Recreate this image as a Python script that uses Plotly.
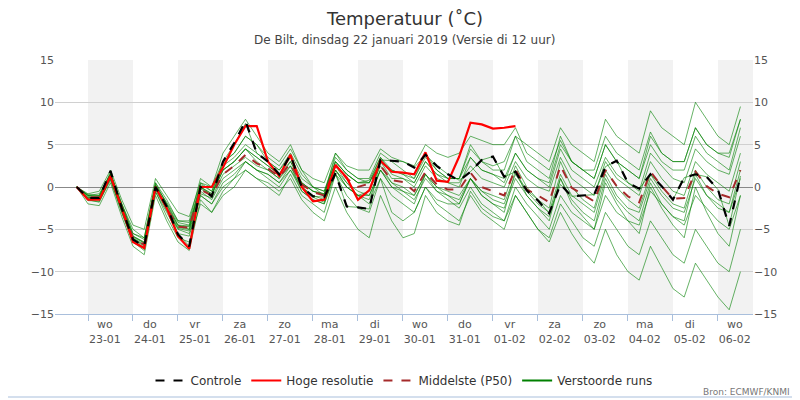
import plotly.graph_objects as go

# hours since 23-01 00h, 6-hourly
hours = list(range(-6, 354, 6))

controle = [0,-1.3,-1.3,1.9,-2.5,-6.2,-7,0,-2.3,-5.6,
            -7,0,-1.1,3,5.2,7.8,4,3,1.5,3.8,
            0,-1.1,-1.2,1.6,-2.3,-2.4,-2.6,3.2,3.1,3,
            2.3,3.8,2.5,1.5,0.75,1.8,3.2,3.6,1.2,1.8,
            -0.4,-1.6,-3.1,0.3,-1.1,-1,-0.9,2.4,3.1,0.5,
            -0.2,1.5,0.1,-1.5,1.1,1.5,1.2,-0.3,-4.6,1.3]
hoge = [0,-1.5,-1.5,1.3,-2.5,-6.5,-7.2,0,-2.5,-5.8,
        -7.3,0,0,2.3,5,7.2,7.2,3,1.3,3.8,
        0,-1.7,-1.5,2.6,1.1,-1.5,-0.4,3.1,1.8,1.7,
        1.5,4.1,0.75,0.6,3.6,7.6,7.4,6.9,7.0,7.2]
middel = [0,-1.2,-1.2,1.3,-2.5,-6,-6.8,0,-2.5,-4.7,
          -4.8,-0.3,-1,1.5,2.5,3.8,2.8,2.2,1.2,2.8,
          0.3,-0.6,-1,2.6,1,0,0.4,2.5,0.8,0.6,
          -0.5,1.8,0.3,-0.3,-0.3,1.7,0,-0.5,-1,2.1,
          -0.3,-1,-1.8,2.5,-0.1,-0.9,-1.7,2,0.1,-1.1,
          -1.8,1.8,0.1,-1.4,-1.3,1.8,0.1,-0.8,-1.2,2]

runs = [
 [0,-1,-1,1.5,-2,-5.5,-6,0.5,-1.5,-4, -4,1,0,4,6,8,6,4,3,5, 2,0,-1,4,2,1,1,4,3,2,
  1,4,2,1,1,5,3,2,2,6, 3,2,1,6,3,2,1,5,3,2, 1,6,4,3,3,7,5,4,4,8],
 [0,-1.5,-1.8,1,-3,-6.5,-7.5,-0.5,-3.5,-6, -6.5,-2,-3,-1,0,2,1,0,-1,1.5, -1,-2,-3,1.5,-1,-2.5,-3,1,-1,-2,
  -3,0,-2,-3,-4,-1,-3,-4,-5,-1, -3,-5,-6,-2,-4,-6,-7,-3,-5,-7, -8,-4,-6,-8,-9,-5,-7,-9,-10,-5],
 [0,-1.3,-1.3,1.8,-2.5,-6.2,-7,0,-2.3,-5.5, -7,0,-1,3,5,7.5,4,3,1.5,3.8, 0,-1.1,-1.2,1.6,-2.3,-2.4,-2.6,3.2,3.1,3,
  2.3,3.8,2.5,1.5,0.8,1.8,3.2,3.6,1.2,1.8, -0.4,-1.5,-3.1,0.3,-1.1,-1,-0.9,2.4,3.1,0.5, -0.2,1.5,0.1,-1.5,1.1,1.5,1.2,-0.3,-4.6,1.3],
 [0,-0.8,-0.5,2,-1.5,-4.5,-5,1,-1,-3, -3.5,0.5,0,3,4,6,5,3,2,4, 1.5,0,-0.5,3.5,2,1,0.5,3.5,2,1.5,
  0.5,3,1.5,0.5,0,3.5,2,1.5,0.5,4, 2,1,0,4.5,2,1,0,3.5,1.5,0.5, -0.5,4,2.5,1,0.5,4.5,3,2,1.5,6],
 [0,-2,-2.2,0.5,-3.5,-7,-8,-1,-4,-6.5, -7.5,-1.5,-3,-0.5,1,3,2,1,0,2, -0.5,-1.5,-2,2,0,-1,-1.5,2,0,-1,
  -2,1.5,0,-1,-2,1,-1,-2,-3,2, -1,-2.5,-4,1,-2,-3.5,-5,0.5,-2,-4, -5.5,0,-2.5,-4.5,-6,0,-3,-5.5,-7,-1],
 [0,-1,-0.8,1.5,-2,-5,-6,0.5,-2,-4.5, -5,0.5,-0.5,2.5,3.5,5,4,3,2,3.5, 1,0,-0.5,3,1.5,0.5,0.5,3,2,1.5,
  1,3.5,2,1,1,4.5,3,2.5,3,6, 5,4,3,7,5,4,3,8,6,5, 4,9,7,6,5,10,8,6,5,9.5],
 [0,-1.5,-1.5,1,-2.8,-6.3,-7.2,-0.3,-2.8,-5, -5.5,-1,-2,0,1,2,1,0.5,-0.5,1, -1.5,-3,-4,0,-3,-5,-6,-1,-4,-6,
  -5.5,-1,-3,-4,-4.5,-0.5,-2.5,-3.5,-4,0, -2,-3.5,-5,-1,-3,-4,-5,-1,-3,-4, -4.5,-0.5,-2,-3.5,-4.5,-1,-2.5,-4,-5,-1],
 [0,-1.2,-1.5,1.2,-2.5,-6,-6.8,0,-2.5,-4.8, -5,-0.5,-1.5,1,2,3,2,1.5,0.5,2, 0,-1,-1.5,2,0.5,-0.5,-1,2,0.5,-0.5,
  -1.5,1,-0.5,-1.5,-2.5,0,-2,-3,-4,-1, -3,-5,-6.5,-3,-5.5,-7.5,-9,-5,-8,-10, -11,-7,-9.5,-12,-13,-9,-11,-13,-14.5,-10],
 [0,-1,-1.2,1.4,-2.2,-5.8,-6.5,0.3,-2,-4.2, -4.5,0,-0.8,2,3,4.5,3.5,2.5,1.5,3, 0.5,-0.5,-0.8,3,1.5,0.5,0.8,3.5,1.5,1,
  0,2.5,1,0.5,0.5,2.5,1,0.5,0,3, 1,0,-0.5,3.5,1,0,-1,3,1,0, -1,3,1,-0.5,-1,3,1.5,0.5,-0.5,4],
 [0,-1.6,-1.7,0.8,-3,-6.5,-7.3,-0.6,-3,-5.5, -5.8,-1,-2,0.5,1.5,3,2,1.5,0.5,2.5, -0.5,-1.5,-2,1.5,0,-1,-1,2,0,-0.5,
  -1,1.5,-0.5,-1,-1.5,1,-0.5,-1.5,-2,1.5, -0.5,-2,-3,1.5,-1,-2,-3,1.5,-1,-2.5, -3,1,-1,-2.5,-3,1,-1,-2,-3,2],
 [0,-0.9,-1,1.6,-2,-5.5,-6.2,0.2,-1.8,-4, -4.2,0.3,-0.5,2.8,4,6,5,3.5,2.5,4.5, 2,1,0.5,4,2.5,2,2,4.5,3.5,3,
  2.5,5,4,3.5,4,6,5.5,5,5,7, 4,3,2,5.5,3,2,1,5,3,2, 1,5,3,2,2,6,4,3,2,7],
 [0,-1.4,-1.4,1.1,-2.7,-6.1,-6.9,-0.2,-2.6,-4.9, -5.2,-0.8,-1.3,1.5,2.5,3.5,2.5,2,1,2.5, 0,-1.2,-1.8,2,0,-1,-0.5,2.5,0.5,0,
  -1,1.5,0,-0.5,-1,1,-0.5,-1,-1.5,2.5, 0,-1.5,-2.5,3,0,-1.5,-2.5,2,0,-1.5, -2.5,1.5,-0.5,-2,-2.5,2,0,-1.5,-2,3],
 [0,-1.1,-1.3,1.3,-2.4,-5.9,-6.6,0.1,-2.4,-4.6, -4.7,-0.2,-1,2,3,4.5,3,2,1,3, 0.5,-0.5,-1,2.5,0.5,-1,-2,1,-3,-4,
  -3,0,-1.5,-2,-2,1,-1,-2,-2.5,1, -1,-2.5,-3.5,1,-1.5,-3,-4,1,-1.5,-3, -4,0.5,-2,-3.5,-4,1.5,-1,-2.5,-3,1],
 [0,-1.3,-1.1,1.5,-2.3,-5.8,-6.6,0,-2.2,-4.5, -4.6,0,-0.8,2,3,4.5,3.5,2.5,1.5,3.5, 0.5,-0.5,-0.8,3,1.5,0.5,0.5,3,1,1,
  0.5,3,1.5,1,1,3.5,2,1.5,1,4, 2,1,0.5,5,3,2,2,6,4,3, 2,6.5,4,3,3,7,5,4,3.5,8],
]

day_names = ["wo","do","vr","za","zo","ma","di","wo","do","vr","za","zo","ma","di","wo"]
day_dates = ["23-01","24-01","25-01","26-01","27-01","28-01","29-01","30-01","31-01",
             "01-02","02-02","03-02","04-02","05-02","06-02"]

fig = go.Figure()
for k, r in enumerate(runs):
    fig.add_trace(go.Scatter(x=hours, y=r, mode="lines", name="Verstoorde runs",
                             line=dict(color="rgba(0,128,0,0.6)", width=1),
                             showlegend=False, hoverinfo="skip"))
fig.add_trace(go.Scatter(x=hours, y=middel, mode="lines", name="Middelste (P50)",
                         line=dict(color="#a52a2a", width=2, dash="dash"), showlegend=False))
fig.add_trace(go.Scatter(x=hours[:len(hoge)], y=hoge, mode="lines", name="Hoge resolutie",
                         line=dict(color="#ff0000", width=2.2), showlegend=False))
fig.add_trace(go.Scatter(x=hours, y=controle, mode="lines", name="Controle",
                         line=dict(color="black", width=2.2, dash="dash"), showlegend=False))
for nm, col, dsh in [("Controle","black","dash"),("Hoge resolutie","#ff0000","solid"),
                     ("Middelste (P50)","#a52a2a","dash"),("Verstoorde runs","green","solid")]:
    fig.add_trace(go.Scatter(x=[None], y=[None], mode="lines", name=nm,
                             line=dict(color=col, width=2, dash=dsh)))
fig.add_trace(go.Scatter(x=[hours[0]], y=[0], yaxis="y2", mode="markers",
                         marker=dict(opacity=0), showlegend=False, hoverinfo="skip"))

def py(p):  # paper y for a pixel row (plot area rows 60..314)
    return (314 - p) / 254

shapes = []
for d in range(0, 15, 2):
    shapes.append(dict(type="rect", xref="x", yref="paper", x0=d*24, x1=d*24+24, y0=0, y1=1,
                       fillcolor="#f2f2f2", line_width=0, layer="below"))
shapes.append(dict(type="line", xref="paper", yref="paper", x0=-0.08, x1=1.08,
                   y0=py(397), y1=py(397), line=dict(color="#a9bfdc", width=1)))

fig.update_layout(
    width=800, height=400, paper_bgcolor="white", plot_bgcolor="white",
    font=dict(family="DejaVu Sans", color="#555", size=11),
    margin=dict(l=47, r=55, t=52, b=94),
    shapes=shapes,
    annotations=[
        dict(text="Temperatuur (˚C)", xref="paper", yref="paper", x=0.5, y=py(18),
             yanchor="middle", showarrow=False, font=dict(size=18, color="#333")),
        dict(text="De Bilt, dinsdag 22 januari 2019 (Versie di 12 uur)", xref="paper", yref="paper",
             x=0.5, y=py(40), yanchor="middle", showarrow=False, font=dict(size=12, color="#444")),
        dict(text="Bron: ECMWF/KNMI", xref="paper", yref="paper", x=(784-47)/698, y=py(392),
             xanchor="right", yanchor="middle", showarrow=False, font=dict(size=9, color="#777")),
    ],
    xaxis=dict(range=[-17.6, 354.7], tickvals=[d*24+9 for d in range(15)],
               ticktext=[f"{a}<br>{b}" for a, b in zip(day_names, day_dates)],
               ticks="", showgrid=False, zeroline=False, showline=True, linecolor="#a9bfdc",
               minor=dict(tick0=0, dtick=24, ticks="outside", ticklen=6, tickcolor="#a9bfdc",
                          showgrid=False),
               tickfont=dict(size=11, color="#555"), fixedrange=True),
    yaxis=dict(range=[-15, 15], dtick=5, gridcolor="#d0d0d0", zeroline=True, zerolinecolor="#888",
               zerolinewidth=1.2, ticks="", tickfont=dict(size=11, color="#555")),
    yaxis2=dict(range=[-15, 15], dtick=5, overlaying="y", side="right", showgrid=False,
                zeroline=False, tickfont=dict(size=11, color="#555")),
    legend=dict(orientation="h", x=0.5, xanchor="center", y=py(366), yanchor="top",
                font=dict(size=12, color="#333"), bgcolor="rgba(0,0,0,0)"),
)
fig.write_html("out.html")
